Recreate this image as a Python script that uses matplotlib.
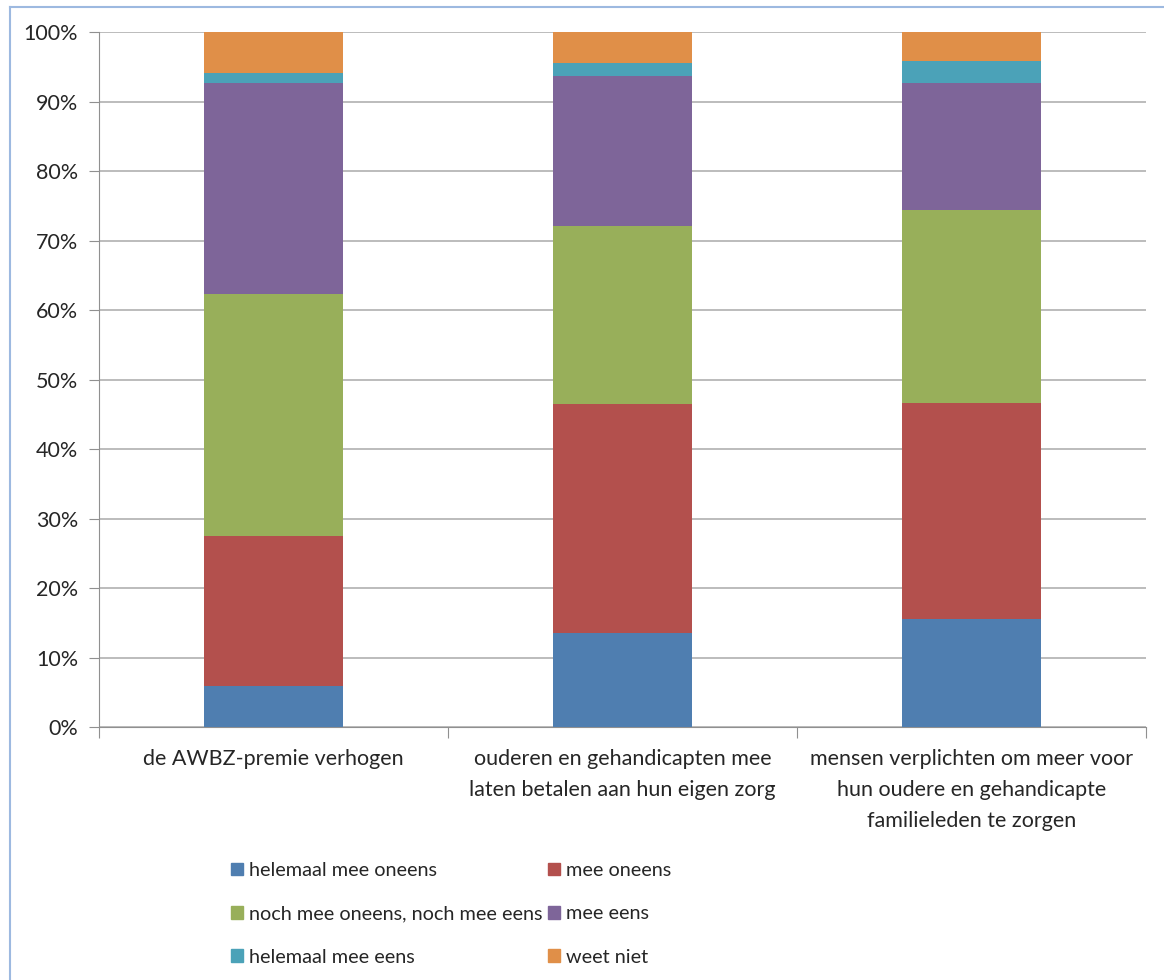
import matplotlib

matplotlib.use("Agg")
import matplotlib.pyplot as plt
from matplotlib.lines import Line2D
from matplotlib.patches import Patch
from matplotlib.ticker import PercentFormatter

plt.rcParams["font.family"] = ["Lato", "DejaVu Sans"]

# Share of answers per proposal (percent)
categories = [
    "de AWBZ-premie verhogen",
    "ouderen en gehandicapten mee\nlaten betalen aan hun eigen zorg",
    "mensen verplichten om meer voor\nhun oudere en gehandicapte\nfamilieleden te zorgen",
]
series_names = [
    "helemaal mee oneens",
    "mee oneens",
    "noch mee oneens, noch mee eens",
    "mee eens",
    "helemaal mee eens",
    "weet niet",
]
helemaal_oneens = [5.9, 13.5, 15.5]
mee_oneens = [21.6, 33.0, 31.1]
neutraal = [34.8, 25.6, 27.8]
mee_eens = [30.4, 21.6, 18.3]
helemaal_eens = [1.4, 1.8, 3.1]
weet_niet = [5.9, 4.5, 4.2]

series = [helemaal_oneens, mee_oneens, neutraal, mee_eens, helemaal_eens, weet_niet]
colors = ["#4F7EB0", "#B3504D", "#98AF5A", "#7E6599", "#4BA2B8", "#E08F48"]
FS = 15.5
TXT = "#262626"

fig = plt.figure(figsize=(11.64, 9.80), dpi=100)
ax = fig.add_axes([99 / 1164, 1 - 727 / 980, (1146 - 99) / 1164, 695 / 980])

x = list(range(len(categories)))
bottom = [0.0] * len(categories)
for vals, col in zip(series, colors):
    ax.bar(x, vals, width=0.4, bottom=bottom, color=col, zorder=3)
    bottom = [b + v for b, v in zip(bottom, vals)]

ax.set_xlim(-0.5, len(categories) - 0.5)
ax.set_ylim(0, 100)
ax.set_yticks(range(0, 101, 10))
ax.yaxis.set_major_formatter(PercentFormatter(decimals=0))
ax.grid(axis="y", color="#B0B0B0", linewidth=1.2, zorder=0)

# category separators as major ticks, labels as minor ticks
ax.set_xticks([i - 0.5 for i in range(len(categories) + 1)])
ax.set_xticklabels([])
ax.set_xticks(x, minor=True)
ax.set_xticklabels(categories, minor=True)
for lbl in ax.get_xticklabels(minor=True):
    lbl.set_linespacing(1.68)
ax.tick_params(axis="x", which="major", length=8, color="#909090", direction="out")
ax.tick_params(axis="x", which="minor", length=0, pad=16, labelsize=FS, colors=TXT)
ax.tick_params(axis="y", length=7, color="#909090", labelsize=FS, labelcolor=TXT, pad=8)

for side in ["top", "right"]:
    ax.spines[side].set_visible(False)
ax.spines["left"].set_color("#909090")
ax.spines["bottom"].set_color("#909090")

# legend, filled row by row like the original
order = [0, 2, 4, 1, 3, 5]
handles = [Patch(color=colors[i]) for i in order]
labels = [series_names[i] for i in order]
fig.legend(handles, labels, ncol=2, loc="upper left",
           bbox_to_anchor=(217 / 1164, 1 - 848 / 980), frameon=False,
           fontsize=14.3, handlelength=0.6, handleheight=0.6, handletextpad=0.3,
           labelspacing=1.33, columnspacing=0.3, labelcolor=TXT, borderpad=0.2)

# outer chart frame (only left and top edges visible)
fig.add_artist(Line2D([10 / 1164, 10 / 1164], [0, 1 - 7 / 980],
                      transform=fig.transFigure, color="#9DB9E0", linewidth=1.5))
fig.add_artist(Line2D([10 / 1164, 1], [1 - 7 / 980, 1 - 7 / 980],
                      transform=fig.transFigure, color="#9DB9E0", linewidth=1.5))

fig.savefig("out.png", dpi=100)
